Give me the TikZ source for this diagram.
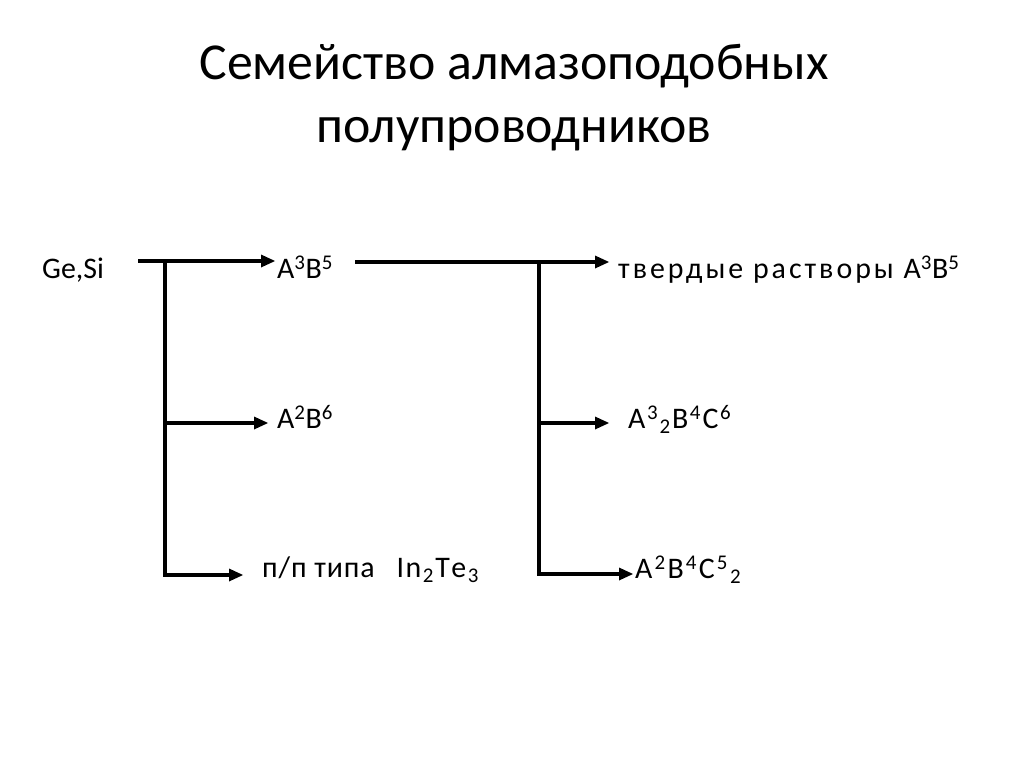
\documentclass[tikz,border=0pt]{standalone}
\usepackage{fontspec}
\setmainfont{Carlito}
\usetikzlibrary{calc}
\newcommand\lsp[1]{\addfontfeature{LetterSpace=#1}}
\newcommand\gp[1]{\kern#1bp\relax}
\newcommand\arrowpoly[2]{\fill[black] ($(#1)+(0,-1.75)$) -- ($(#2)+(-14,-1.75)$) -- ($(#2)+(-14,-6.5)$) -- (#2) -- ($(#2)+(-14,6.5)$) -- ($(#2)+(-14,1.75)$) -- ($(#1)+(0,1.75)$) -- cycle;}
\begin{document}
\begin{tikzpicture}[x=1bp,y=-1bp,
  conn/.style={line width=3.5bp},
  shaft/.style={conn, shorten >=12bp},
  lbl/.style={anchor=base west,inner sep=0pt,font=\fontsize{30}{36}\selectfont},
  ttl/.style={anchor=base,inner sep=0pt,font=\fontsize{52}{60}\selectfont}]
\useasboundingbox (0,0) rectangle (1024,767);
\node[ttl] (t1) at (514,80) {Семейство алмазоподобных};
\node[ttl] (t2) at (514,142) {полупроводников};
\node[lbl] (gesi) at (42,278) {Ge,Si};
\node[lbl] (a3b5) at (277,278) {A\textsuperscript{3}B\textsuperscript{5}};
\node[lbl] (tr) at (618,278) {{\lsp{10}твердые растворы }A\textsuperscript{3}B\textsuperscript{5}};
\node[lbl] (a2b6) at (277,428) {A\textsuperscript{2}B\textsuperscript{6}};
\node[lbl] (a32) at (628,428) {A\gp{1.5}\textsuperscript{3}\gp{1.5}\textsubscript{2}\gp{1.5}B\gp{1.5}\textsuperscript{4}\gp{1.5}C\gp{1.5}\textsuperscript{6}};
\node[lbl] (pp) at (262,577) {{\lsp{3}п/п типа}\hspace{22bp}I\gp{1.5}n\gp{1.5}\textsubscript{2}\gp{1.5}T\gp{1.5}e\gp{1.5}\textsubscript{3}};
\node[lbl] (a2b4) at (635,578) {A\gp{2}\textsuperscript{2}\gp{2}B\gp{2}\textsuperscript{4}\gp{2}C\gp{2}\textsuperscript{5}\gp{2}\textsubscript{2}};
\coordinate (s1) at (138,261);
\coordinate (e1) at (275,261);
\coordinate (j1) at (165,261);
\coordinate (b1) at (165,577);
\coordinate (m1) at (165,423);
\coordinate (m1e) at (268,423);
\coordinate (c1) at (163.25,575);
\coordinate (c1e) at (243,575);
\coordinate (s2) at (355,262);
\coordinate (e2) at (609,262);
\coordinate (j2) at (539,262);
\coordinate (b2) at (539,576);
\coordinate (m2) at (539,423);
\coordinate (m2e) at (609,423);
\coordinate (c2) at (537.25,574);
\coordinate (c2e) at (633,574);
\draw[shaft] (s1) -- (e1);  \arrowpoly{s1}{e1}
\draw[conn] (j1) -- (b1);
\draw[shaft] (m1) -- (m1e); \arrowpoly{m1}{m1e}
\draw[shaft] (c1) -- (c1e); \arrowpoly{c1}{c1e}
\draw[shaft] (s2) -- (e2);  \arrowpoly{s2}{e2}
\draw[conn] (j2) -- (b2);
\draw[shaft] (m2) -- (m2e); \arrowpoly{m2}{m2e}
\draw[shaft] (c2) -- (c2e); \arrowpoly{c2}{c2e}
\end{tikzpicture}
\end{document}
